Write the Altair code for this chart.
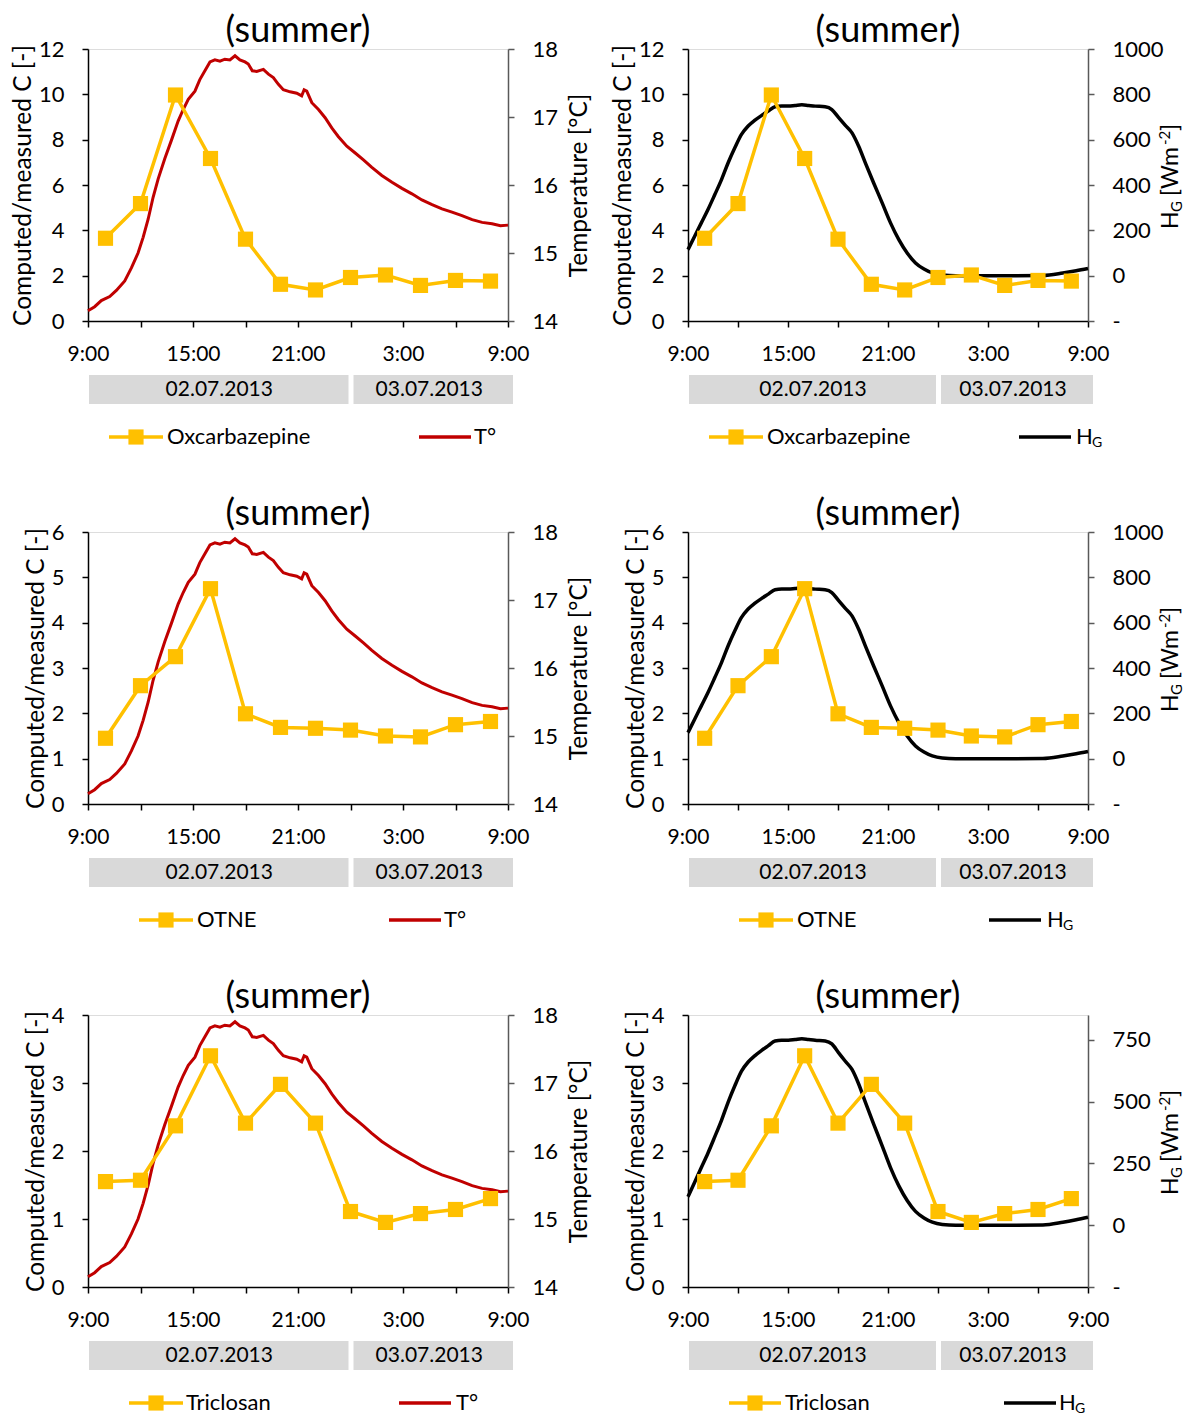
import altair as alt
import pandas as pd

FONT = "Lato"
YELLOW = "#FFC000"
RED = "#C00000"
BLACK = "#000000"
RAXIS = "#595959"

# ---------------- data ----------------
# sampling times: hours after 9:00 on 02.07.2013
sample_hours = [1, 3, 5, 7, 9, 11, 13, 15, 17, 19, 21, 23]
oxcarbazepine = [3.65, 5.18, 9.97, 7.17, 3.61, 1.62, 1.37, 1.92, 2.03, 1.57, 1.79, 1.76]
otne = [1.45, 2.61, 3.25, 4.75, 1.99, 1.69, 1.67, 1.63, 1.50, 1.48, 1.75, 1.82]
triclosan = [1.55, 1.57, 2.37, 3.40, 2.41, 2.98, 2.41, 1.11, 0.95, 1.08, 1.14, 1.30]

# water temperature T° (hours after 9:00, °C)
temp_hours = [0, 0.38, 0.76, 1.24, 1.62, 2.10, 2.48, 2.86, 3.15, 3.44, 3.72, 4.01, 4.39,
              4.77, 5.15, 5.44, 5.73, 6.11, 6.39, 6.68, 6.97, 7.25, 7.54, 7.82, 8.11,
              8.40, 8.68, 8.97, 9.16, 9.39, 9.64, 10.02, 10.31, 10.59, 10.88, 11.16,
              11.55, 11.93, 12.21, 12.35, 12.50, 12.79, 13.17, 13.55, 13.93, 14.31,
              14.79, 15.27, 15.74, 16.22, 16.79, 17.37, 17.94, 18.51, 19.08, 19.66,
              20.23, 20.80, 21.37, 21.95, 22.52, 23.09, 23.57, 24.0]
temp_values = [14.15, 14.21, 14.30, 14.36, 14.45, 14.59, 14.78, 15.00, 15.23, 15.50, 15.82,
               16.09, 16.39, 16.66, 16.94, 17.11, 17.26, 17.38, 17.55, 17.68, 17.81, 17.84,
               17.82, 17.85, 17.84, 17.90, 17.84, 17.81, 17.78, 17.68, 17.67, 17.70, 17.63,
               17.58, 17.48, 17.40, 17.37, 17.35, 17.31, 17.40, 17.38, 17.21, 17.11, 16.99,
               16.84, 16.71, 16.57, 16.47, 16.37, 16.26, 16.14, 16.04, 15.95, 15.87, 15.78,
               15.71, 15.65, 15.60, 15.55, 15.49, 15.45, 15.43, 15.40, 15.41]

# global radiation H_G (hours after 9:00, W m-2)
rad_hours = [0, 0.40, 0.80, 1.20, 1.61, 2.01, 2.41, 2.81, 3.21, 3.61, 4.02, 4.42, 4.82,
             5.22, 5.62, 6.02, 6.43, 6.83, 7.23, 7.63, 8.23, 8.63, 9.04, 9.44, 9.84,
             10.24, 10.64, 11.14, 11.65, 12.15, 12.65, 13.15, 13.65, 14.16, 14.66,
             15.26, 16.06, 17.67, 19.68, 21.29, 22.49, 23.29, 24.0]
rad_values = [115, 174, 233, 292, 358, 424, 498, 564, 623, 660, 686, 707, 726, 745, 748,
              748, 751, 754, 751, 748, 745, 733, 697, 663, 630, 571, 498, 409, 321, 233,
              159, 100, 56, 29, 12, 3, 0, 0, 0, 1, 12, 22, 32]

x_tick_hours = [0, 3, 6, 9, 12, 15, 18, 21, 24]
x_tick_labels = ["9:00", "", "15:00", "", "21:00", "", "3:00", "", "9:00"]

date_labels = ["02.07.2013", "03.07.2013"]
date_start = [0, 15]
date_end = [15, 24]

title_text = "(summer)"
left_title = "Computed/measured C [-]"
temp_title = "Temperature [°C]"

# ---------------- layout constants ----------------
PLOT_H = 272
W_LEFT, W_RIGHT = 420, 400
LEG_DY = 116

X_LABEL_EXPR = "".join(
    f"datum.value == {h} ? '{lab}' : " for h, lab in zip(x_tick_hours, x_tick_labels)
) + "''"

x_scale = alt.Scale(domain=[0, 24], nice=False, zero=False)
x_axis = alt.Axis(values=x_tick_hours, labelExpr=X_LABEL_EXPR, title=None, grid=False,
                  tickSize=6, labelPadding=16, domainColor=BLACK, tickColor=BLACK,
                  domainWidth=1.5, tickWidth=1.5, labelFontSize=21, labelColor=BLACK,
                  labelFont=FONT, labelOverlap=False, labelFlush=False)


def xq(field):
    return alt.X(field, type="quantitative", scale=x_scale, axis=x_axis)


def make_panel(width, c_name, c_vals, c_ticks, right_kind, r_ticks, leg):
    H = PLOT_H
    layers = []
    one = pd.DataFrame({"k": [0]})
    base = alt.Chart(one)

    # right-axis series (drawn first, beneath)
    if right_kind == "T":
        rdf = pd.DataFrame({"hour": temp_hours, "r": temp_values})
        r_axis = alt.Axis(orient="right", values=r_ticks, title=temp_title, grid=False,
                          tickSize=6, labelPadding=18, titlePadding=10, titleAngle=270,
                          titleBaseline="top",
                          domainColor=RAXIS, tickColor=RAXIS, domainWidth=1.5, tickWidth=1.5,
                          labelFontSize=22, labelColor=BLACK, titleFontSize=24.5,
                          titleFontWeight="normal", titleColor=BLACK, format="d")
        rline = alt.Chart(rdf).mark_line(color=RED, strokeWidth=3).encode(
            x=xq("hour"),
            y=alt.Y("r:Q", scale=alt.Scale(domain=[r_ticks[0], r_ticks[-1]], nice=False, zero=False),
                    axis=r_axis))
        leg_color = RED
    else:
        rdf = pd.DataFrame({"hour": rad_hours, "r": rad_values})
        shown = [v for v in r_ticks if v % 50 == 0 and v != 850]
        r_axis = alt.Axis(orient="right", values=shown,
                          title=None, grid=False,
                          tickSize=6, labelPadding=18,
                          domainColor=RAXIS, tickColor=RAXIS, domainWidth=1.5, tickWidth=1.5,
                          labelFontSize=22, labelColor=BLACK, format="d",
                          labelExpr=f"datum.value == {r_ticks[0]} ? '-' : datum.label")
        rline = alt.Chart(rdf).mark_line(color=BLACK, strokeWidth=3.5, interpolate="monotone").encode(
            x=xq("hour"),
            y=alt.Y("r:Q", scale=alt.Scale(domain=[r_ticks[0], r_ticks[-1]], nice=False, zero=False),
                    axis=r_axis))
        leg_color = BLACK
    layers.append(rline)

    # computed/measured concentration ratio
    cdf = pd.DataFrame({"hour": sample_hours, "value": c_vals})
    c_axis = alt.Axis(orient="left", values=c_ticks, title=left_title, grid=False,
                      tickSize=6, labelPadding=18, titlePadding=3,
                      domainColor=BLACK, tickColor=BLACK, domainWidth=1.5, tickWidth=1.5,
                      labelFontSize=22, labelColor=BLACK, titleFontSize=24.5,
                      titleFontWeight="normal", titleColor=BLACK)
    cline = alt.Chart(cdf).mark_line(
        color=YELLOW, strokeWidth=3.5,
        point=alt.OverlayMarkDef(shape="square", size=230, filled=True, color=YELLOW, opacity=1)
    ).encode(
        x=xq("hour"),
        y=alt.Y("value:Q", scale=alt.Scale(domain=[c_ticks[0], c_ticks[-1]], nice=False),
                axis=c_axis))
    layers.append(cline)

    # panel title
    layers.append(base.mark_text(align="center", baseline="middle", fontSize=36, text=title_text,
                                 color=BLACK, font=FONT).encode(
        x=alt.value(width / 2), y=alt.value(-18)))

    # date bands below the time axis
    bdf = pd.DataFrame({"start": date_start, "end": date_end, "label": date_labels})
    bdf["mid"] = (bdf["start"] + bdf["end"]) / 2
    b1 = alt.Chart(bdf.iloc[[0]]).mark_rect(color="#D9D9D9", xOffset=1, x2Offset=-2).encode(
        x=xq("start"), x2="end", y=alt.value(H + 54), y2=alt.value(H + 83))
    b2 = alt.Chart(bdf.iloc[[1]]).mark_rect(color="#D9D9D9", xOffset=3, x2Offset=5).encode(
        x=xq("start"), x2="end", y=alt.value(H + 54), y2=alt.value(H + 83))
    bt = alt.Chart(bdf).mark_text(fontSize=21, baseline="middle", color=BLACK, font=FONT).encode(
        x=xq("mid"), y=alt.value(H + 69), text="label:N")
    layers += [b1, b2, bt]

    # manual legend
    ly = H + LEG_DY
    a1, a2, t1, b1x, b2x, t2 = leg
    layers.append(base.mark_rule(color=YELLOW, strokeWidth=3.5).encode(
        x=alt.value(a1), x2=alt.value(a2), y=alt.value(ly)))
    layers.append(base.mark_point(shape="square", filled=True, size=230, color=YELLOW, opacity=1).encode(
        x=alt.value((a1 + a2) / 2), y=alt.value(ly)))
    layers.append(base.mark_text(align="left", baseline="middle", fontSize=22, text=c_name,
                                 color=BLACK, font=FONT).encode(x=alt.value(t1), y=alt.value(ly)))
    layers.append(base.mark_rule(color=leg_color, strokeWidth=3.5).encode(
        x=alt.value(b1x), x2=alt.value(b2x), y=alt.value(ly)))
    if right_kind == "T":
        layers.append(base.mark_text(align="left", baseline="middle", fontSize=22, text="T°",
                                     color=BLACK, font=FONT).encode(x=alt.value(t2), y=alt.value(ly)))
    else:
        layers.append(base.mark_text(align="left", baseline="middle", fontSize=22, text="H",
                                     color=BLACK, font=FONT).encode(x=alt.value(t2), y=alt.value(ly)))
        layers.append(base.mark_text(align="left", baseline="middle", fontSize=14, text="G",
                                     color=BLACK, font=FONT, dy=6).encode(x=alt.value(t2 + 16), y=alt.value(ly)))
        # right axis title  H_G [Wm^-2]  (rotated, with sub/superscripts)
        ax = width + 90
        ay = 180
        pieces = [("H", 23, 0, 0), ("G", 15, 17, 4), ("[Wm", 23, 33, 0), ("-2", 15, 84, -8), ("]", 23, 98, 0)]
        for txt, fs, dx, dy in pieces:
            layers.append(base.mark_text(align="left", baseline="alphabetic", angle=270, fontSize=fs,
                                         text=txt, dx=dx, dy=dy, color=BLACK, font=FONT).encode(
                x=alt.value(ax), y=alt.value(ay)))

    return alt.layer(*layers).resolve_scale(y="independent").properties(width=width, height=H)


c1_ticks = [0, 2, 4, 6, 8, 10, 12]
c2_ticks = [0, 1, 2, 3, 4, 5, 6]
c3_ticks = [0, 1, 2, 3, 4]
t_ticks = [14, 15, 16, 17, 18]
h_ticks = [-200, 0, 200, 400, 600, 800, 1000]
h_ticks3 = [-250, 0, 250, 500, 750, 850]

p1 = make_panel(W_LEFT, "Oxcarbazepine", oxcarbazepine, c1_ticks, "T", t_ticks, (21, 75, 79, 331, 383, 386))
p2 = make_panel(W_RIGHT, "Oxcarbazepine", oxcarbazepine, c1_ticks, "H", h_ticks, (21, 75, 79, 331, 383, 388))
p3 = make_panel(W_LEFT, "OTNE", otne, c2_ticks, "T", t_ticks, (51, 105, 109, 301, 353, 356))
p4 = make_panel(W_RIGHT, "OTNE", otne, c2_ticks, "H", h_ticks, (51, 105, 109, 301, 353, 359))
p5 = make_panel(W_LEFT, "Triclosan", triclosan, c3_ticks, "T", t_ticks, (41, 95, 98, 311, 363, 368))
p6 = make_panel(W_RIGHT, "Triclosan", triclosan, c3_ticks, "H", h_ticks3, (41, 93, 97, 316, 368, 371))

chart = alt.concat(p1, p2, p3, p4, p5, p6, columns=2, bounds="flush",
                   spacing=alt.RowColnumber(row=211, column=180)).configure_view(
    stroke=None).configure(font=FONT, padding={"left": 1, "top": 4, "right": 0, "bottom": 0})

chart.save("out.html", embed_options={"renderer": "svg", "actions": False})
